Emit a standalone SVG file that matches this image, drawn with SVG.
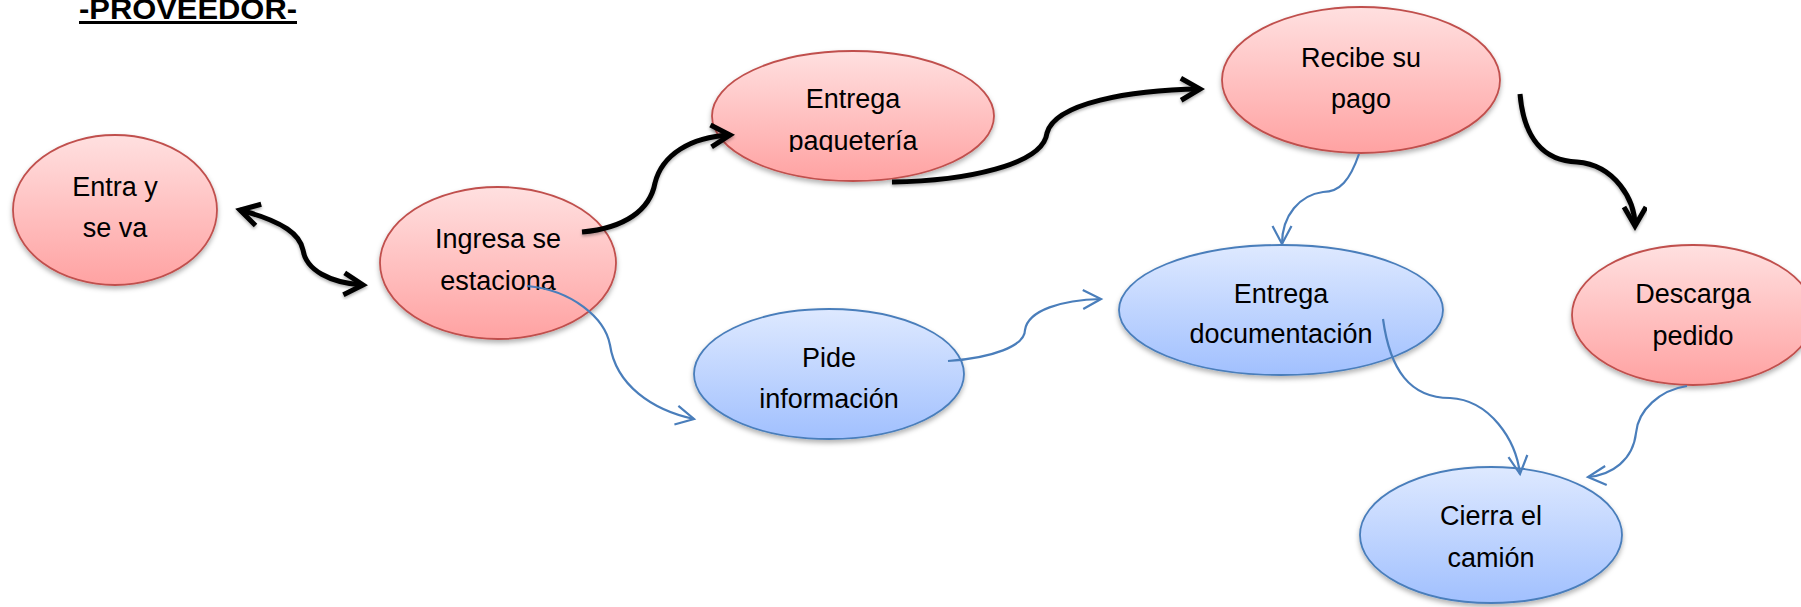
<svg xmlns="http://www.w3.org/2000/svg" width="1801" height="607" viewBox="0 0 1801 607">
  <style>
    .lbl { font-family: "Liberation Sans", Arial, sans-serif; font-size: 27px; fill: #000; text-anchor: middle; }
    .title { font-family: "Liberation Sans", Arial, sans-serif; font-size: 30px; font-weight: bold; fill: #000; }
    .red { fill: url(#gRed); stroke: #C0504D; stroke-width: 1.8; filter: url(#sh); }
    .blue { fill: url(#gBlue); stroke: #4A7EBB; stroke-width: 1.8; filter: url(#sh); }
    .blk { fill: none; stroke: #000; stroke-width: 5; filter: url(#shl); }
    .bl { fill: none; stroke: #4A7EBB; stroke-width: 2.2; }
  </style>
  <defs>
    <linearGradient id="gRed" x1="0" y1="0" x2="0" y2="1">
      <stop offset="0" stop-color="#FFE0E0"/>
      <stop offset="1" stop-color="#FFA2A2"/>
    </linearGradient>
    <linearGradient id="gBlue" x1="0" y1="0" x2="0" y2="1">
      <stop offset="0" stop-color="#DEE9FF"/>
      <stop offset="1" stop-color="#A1C0FE"/>
    </linearGradient>
    <filter id="sh" x="-10%" y="-10%" width="120%" height="130%">
      <feDropShadow dx="0" dy="3" stdDeviation="2.5" flood-color="#000" flood-opacity="0.3"/>
    </filter>
    <filter id="shl" x="-10%" y="-20%" width="120%" height="140%">
      <feDropShadow dx="0" dy="2" stdDeviation="1.5" flood-color="#000" flood-opacity="0.3"/>
    </filter>
    <marker id="mBlk" markerUnits="userSpaceOnUse" markerWidth="32" markerHeight="32" refX="24" refY="14" orient="auto-start-reverse" overflow="visible">
      <path d="M 5 3 L 24 14 L 5 25" fill="none" stroke="#000" stroke-width="5"/>
    </marker>
    <marker id="mBl" markerUnits="userSpaceOnUse" markerWidth="26" markerHeight="26" refX="20" refY="11" orient="auto" overflow="visible">
      <path d="M 2 1.5 L 20 11 L 2 20.5" fill="none" stroke="#4A7EBB" stroke-width="2.2"/>
    </marker>
    <clipPath id="clipPaq">
      <rect x="700" y="0" width="320" height="152"/>
    </clipPath>
  </defs>

  <rect width="1801" height="607" fill="#fff"/>

  <text class="title" x="79" y="19" textLength="218" lengthAdjust="spacingAndGlyphs" text-decoration="underline">-PROVEEDOR-</text>

  <g id="node-entra">
    <ellipse class="red" cx="115" cy="210" rx="102" ry="75"/>
    <text class="lbl" x="115" y="196">Entra y</text>
    <text class="lbl" x="115" y="237">se va</text>
  </g>
  <g id="node-ingresa">
    <ellipse class="red" cx="498" cy="263" rx="118" ry="76"/>
    <text class="lbl" x="498" y="248">Ingresa se</text>
    <text class="lbl" x="498" y="290">estaciona</text>
  </g>
  <g id="node-paqueteria">
    <ellipse class="red" cx="853" cy="116" rx="141" ry="65"/>
    <text class="lbl" x="853" y="108">Entrega</text>
    <text class="lbl" x="853" y="150" clip-path="url(#clipPaq)">paquetería</text>
  </g>
  <g id="node-recibe">
    <ellipse class="red" cx="1361" cy="80" rx="139" ry="73"/>
    <text class="lbl" x="1361" y="67">Recibe su</text>
    <text class="lbl" x="1361" y="108">pago</text>
  </g>
  <g id="node-pide">
    <ellipse class="blue" cx="829" cy="374" rx="135" ry="65"/>
    <text class="lbl" x="829" y="367">Pide</text>
    <text class="lbl" x="829" y="408">información</text>
  </g>
  <g id="node-documentacion">
    <ellipse class="blue" cx="1281" cy="310" rx="162" ry="65"/>
    <text class="lbl" x="1281" y="303">Entrega</text>
    <text class="lbl" x="1281" y="343">documentación</text>
  </g>
  <g id="node-descarga">
    <ellipse class="red" cx="1693" cy="315" rx="121" ry="70"/>
    <text class="lbl" x="1693" y="303">Descarga</text>
    <text class="lbl" x="1693" y="345">pedido</text>
  </g>
  <g id="node-cierra">
    <ellipse class="blue" cx="1491" cy="535" rx="131" ry="68"/>
    <text class="lbl" x="1491" y="525">Cierra el</text>
    <text class="lbl" x="1491" y="567">camión</text>
  </g>

  <g id="connectors">
    <path class="blk" d="M 240 210 C 285 222, 300 235, 303 250 C 306 270, 330 283, 363 285" marker-start="url(#mBlk)" marker-end="url(#mBlk)"/>
    <path class="blk" d="M 582 232 C 625 228, 650 210, 655 183 C 662 155, 690 137, 730 135" marker-end="url(#mBlk)"/>
    <path class="blk" d="M 892 182 C 965 181, 1043 165, 1047 133 C 1055 103, 1130 90, 1200 89" marker-end="url(#mBlk)"/>
    <path class="blk" d="M 1520 94 C 1524 140, 1545 161, 1577 162 C 1615 165, 1635 200, 1635 226" marker-end="url(#mBlk)"/>
    <path class="bl" d="M 527 286 C 572 290, 605 318, 610 345 C 616 385, 652 410, 694 419" marker-end="url(#mBl)"/>
    <path class="bl" d="M 948 361 C 992 358, 1025 346, 1025 330 C 1028 310, 1062 300, 1101 299" marker-end="url(#mBl)"/>
    <path class="bl" d="M 1359 154 C 1350 180, 1340 192, 1323 192 C 1300 195, 1282 215, 1282 244" marker-end="url(#mBl)"/>
    <path class="bl" d="M 1383 319 C 1390 370, 1410 398, 1450 398 C 1490 400, 1516 440, 1520 474" marker-end="url(#mBl)"/>
    <path class="bl" d="M 1687 386 C 1660 390, 1638 410, 1636 433 C 1633 460, 1612 475, 1588 477" marker-end="url(#mBl)"/>
  </g>
</svg>
